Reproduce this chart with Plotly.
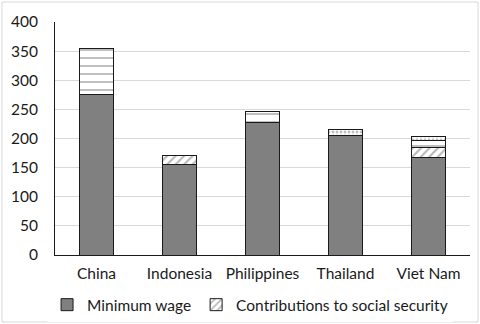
import plotly.graph_objects as go

categories = ["China", "Indonesia", "Philippines", "Thailand", "Viet Nam"]
min_wage = [276, 155, 228, 205, 167]
contrib_diag = [0, 15, 0, 0, 18]
contrib_lines = [79, 0, 18, 0, 12]
contrib_dots = [0, 0, 0, 10, 7]
y_ticks = [0, 50, 100, 150, 200, 250, 300, 350, 400]

fig = go.Figure()
fig.add_trace(go.Bar(
    x=categories, y=min_wage, name="Minimum wage",
    marker=dict(color="#808080", line=dict(color="#1a1a1a", width=1)),
))
fig.add_trace(go.Bar(
    x=categories, y=contrib_diag, name="Contributions to social security",
    marker=dict(color="white", line=dict(color="#1a1a1a", width=1),
                pattern=dict(shape="/", fgcolor="#707070", bgcolor="white", size=6, solidity=0.35)),
))
fig.add_trace(go.Bar(
    x=categories, y=contrib_lines, showlegend=False,
    marker=dict(color="white", line=dict(color="#1a1a1a", width=1),
                pattern=dict(shape="-", fgcolor="#808080", bgcolor="white", size=8, solidity=0.25)),
))
fig.add_trace(go.Bar(
    x=categories, y=contrib_dots, showlegend=False,
    marker=dict(color="white", line=dict(color="#1a1a1a", width=1),
                pattern=dict(shape=".", fgcolor="#808080", bgcolor="white", size=4, solidity=0.4)),
))

fig.update_layout(
    barmode="stack",
    bargap=0.59,
    width=480, height=324,
    margin=dict(l=55, r=10, t=22, b=69, autoexpand=False),
    paper_bgcolor="white", plot_bgcolor="white",
    font=dict(family="Lato", size=15.5, color="#1a1a1a"),
    legend=dict(orientation="h", x=0.47, xanchor="center", y=-0.215, yanchor="middle",
                font=dict(size=15.5), itemwidth=30, traceorder="normal"),
    yaxis=dict(range=[0, 400], tickvals=y_ticks, showgrid=True, gridcolor="#d9d9d9",
               showline=True, linecolor="#1a1a1a", linewidth=1, ticks="", zeroline=False,
               ticklabelstandoff=13, automargin=False),
    xaxis=dict(showline=True, linecolor="#1a1a1a", linewidth=1, ticks="",
               ticklabelstandoff=4, automargin=False),
    shapes=[dict(type="rect", xref="paper", yref="paper",
                 x0=-53/415, x1=(415 + 8) / 415, y0=-67/233, y1=1 + 20/233,
                 line=dict(color="#d9d9d9", width=1), fillcolor="rgba(0,0,0,0)")],
)

fig.write_html("out.html")
